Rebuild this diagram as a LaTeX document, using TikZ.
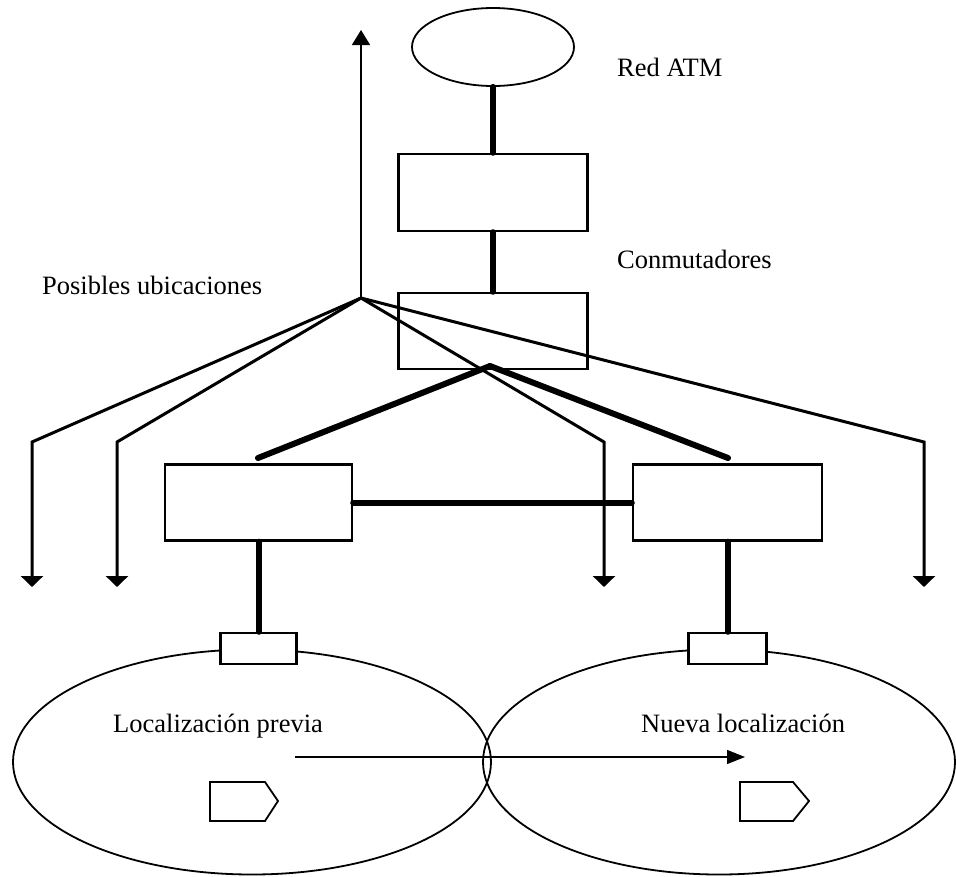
\documentclass[tikz,border=0pt]{standalone}
\usepackage{fontspec}
\setmainfont{Liberation Serif}
\usetikzlibrary{shapes.geometric,arrows.meta}
\begin{document}
\begin{tikzpicture}[x=1pt,y=-1pt,
  box/.style={draw,rectangle,line width=2.4pt,inner sep=0pt},
  cloud/.style={draw,ellipse,line width=1.8pt,inner sep=0pt},
  trunk/.style={line width=6pt,line cap=round},
  route/.style={line width=3pt,-{Triangle[width=22pt,length=11pt]}},
  lbl/.style={inner sep=0pt,anchor=base west,font=\fontsize{26.5}{31}\selectfont}]
\useasboundingbox (0,0) rectangle (956,876);

% ATM network and switches
\node[cloud,minimum width=162pt,minimum height=78pt] (atm) at (493,47) {};
\node[box,minimum width=189pt,minimum height=77pt] (sw1) at (493,192.5) {};
\node[box,minimum width=189pt,minimum height=76pt] (sw2) at (493,331) {};

% cells
\node[cloud,minimum width=478pt,minimum height=225pt] (cellL) at (252,762) {};
\node[cloud,minimum width=472pt,minimum height=225pt] (cellR) at (719,762) {};

% base stations and their ports
\node[box,minimum width=187pt,minimum height=76pt] (bsL) at (258.5,502.5) {};
\node[box,minimum width=189pt,minimum height=76pt] (bsR) at (727.5,502.5) {};
\node[box,fill=white,minimum width=76pt,minimum height=31pt] (portL) at (258.5,648.5) {};
\node[box,fill=white,minimum width=78pt,minimum height=31pt] (portR) at (727.5,648.5) {};

% terminals
\draw[line width=1.8pt,line join=miter] (210,782) -- (265,782) -- (278,801) -- (265,821) -- (210,821) -- cycle;
\draw[line width=1.8pt,line join=miter] (740,782) -- (793,782) -- (809,801) -- (793,821) -- (740,821) -- cycle;

% trunk links
\coordinate (apex) at (490,366);
\coordinate (tL) at (258,458);
\coordinate (tR) at (728,458);
\draw[trunk] (atm.south) -- (sw1.north);
\draw[trunk] (sw1.south) -- (sw2.north);
\draw[trunk] (apex) -- (tL);
\draw[trunk] (apex) -- (tR);
\draw[trunk] (bsL.east) -- (bsR.west);
\draw[trunk] (bsL.south) -- (portL.north);
\draw[trunk] (bsR.south) -- (portR.north);

% possible locations
\coordinate (hub) at (361,298);
\coordinate (up) at (361,30);
\coordinate (k1) at (32,442);  \coordinate (e1) at (32,587);
\coordinate (k2) at (117,442); \coordinate (e2) at (117,587);
\coordinate (k3) at (604,442); \coordinate (e3) at (604,587);
\coordinate (k4) at (924,442); \coordinate (e4) at (924,587);
\draw[line width=1.6pt,-{Triangle[width=18pt,length=15pt]}] (hub) -- (up);
\draw[route] (hub) -- (k1) -- (e1);
\draw[route] (hub) -- (k2) -- (e2);
\draw[route] (hub) -- (k3) -- (e3);
\draw[route] (hub) -- (k4) -- (e4);

% handover
\coordinate (hoA) at (295,757);
\coordinate (hoB) at (745,757);
\draw[line width=1.2pt,-{Triangle[width=14pt,length=18pt]}] (hoA) -- (hoB);

% labels
\node[lbl] (tatm) at (617,76) {Red ATM};
\node[lbl] (tsw) at (617,268) {Conmutadores};
\node[lbl] (tpos) at (42,294) {Posibles ubicaciones};
\node[lbl] (tprev) at (113,732) {Localización previa};
\node[lbl] (tnew) at (641,732) {Nueva localización};
\end{tikzpicture}
\end{document}
